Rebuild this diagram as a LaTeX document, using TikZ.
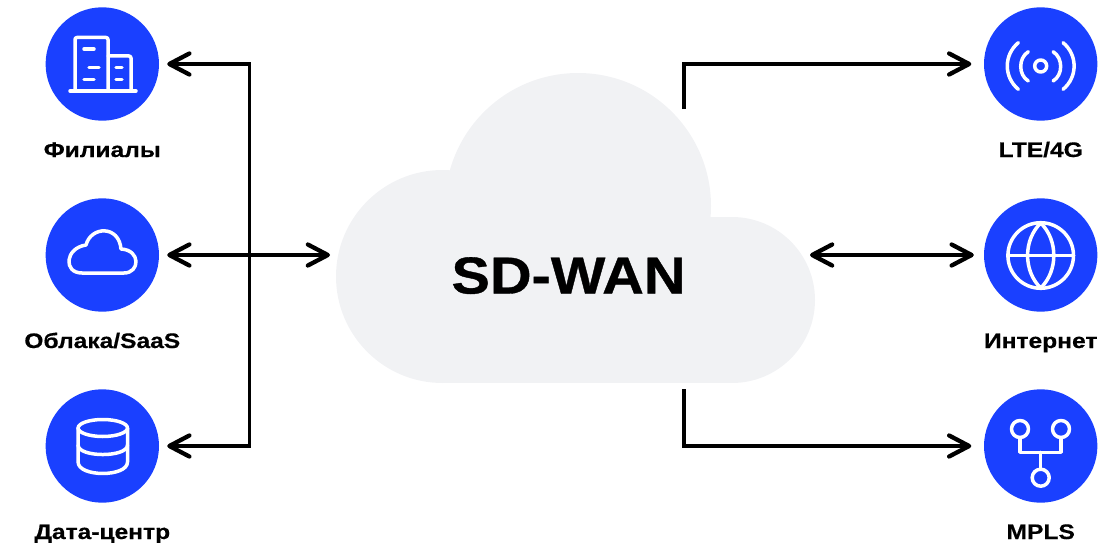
\documentclass[tikz,border=0pt]{standalone}
\usepackage{fontspec}
\newfontfamily\labfont{Liberation Sans Bold}[FakeStretch=1.17,FakeBold=0.5]
\newfontfamily\corefont{Liberation Sans Bold}[FakeStretch=1.11,FakeBold=0.7]
\usetikzlibrary{arrows.meta}
\definecolor{disc}{HTML}{1A40FF}
\definecolor{cloudgrey}{HTML}{F1F2F4}
\tikzset{
  x=1pt,y=-1pt,
  disc/.style={circle,fill=disc,minimum size=113.4pt,inner sep=0pt,draw=none},
  lab/.style={font=\labfont\fontsize{21}{24}\selectfont,text=black,inner sep=0pt,anchor=base},
  cloudpart/.style={fill=cloudgrey,draw=none},
  link/.style={draw=black,line width=3.7pt,line join=miter},
  barb/.tip={Straight Barb[length=20pt,width=21pt,round,line width=4.3pt]},
  ico/.style={draw=white,line width=3.5pt,line cap=round,line join=round},
}
\begin{document}
\begin{tikzpicture}
\useasboundingbox (0,0) rectangle (1117,543);
% cloud
\fill[cloudpart] (442.5,276.5) circle (106.5);
\fill[cloudpart] (578,206) circle (133);
\fill[cloudpart] (732,300) circle (83);
\fill[cloudpart] (442.5,217) rectangle (732,383);
\node[font=\corefont\fontsize{52}{60}\selectfont,inner sep=0pt,anchor=base] (core) at (568.5,293.5) {SD-WAN};
% discs
\node[disc] (fil) at (102.3,64) {};
\node[disc] (obl) at (102.3,255) {};
\node[disc] (dc) at (102.3,446) {};
\node[disc] (lte) at (1040.7,64) {};
\node[disc] (inet) at (1040.7,255) {};
\node[disc] (mpls) at (1040.7,446) {};
% labels
\node[lab] (lfil) at (102.3,157) {Филиалы};
\node[lab] (lobl) at (102.3,348) {Облака/SaaS};
\node[lab] (ldc) at (102.3,539) {Дата-центр};
\node[lab] (llte) at (1040.7,157) {LTE/4G};
\node[lab] (linet) at (1040.7,348) {Интернет};
\node[lab] (lmpls) at (1040.7,539) {MPLS};
% connector points
\coordinate (cl) at (330,255);
\coordinate (cr) at (810,255);
\coordinate (ct) at (684,109);
\coordinate (cb) at (684,389);
\coordinate (bus) at (249.5,64);
% connectors
\draw[link,{barb}-{barb},shorten <=8pt,shorten >=8pt] (fil.east) -- (bus) -- (bus |- dc.east) -- (dc.east);
\draw[link,{barb}-{barb},shorten <=8pt] (obl.east) -- (cl);
\draw[link,-{barb},shorten >=12.5pt] (ct) |- (lte.west);
\draw[link,{barb}-{barb},shorten >=10pt] (cr) -- (inet.west);
\draw[link,-{barb},shorten >=12.5pt] (cb) |- (mpls.west);
% icon: buildings
\draw[ico] (70,91) -- (136,91);
\draw[ico,rounded corners=2pt] (75,91) -- (75,37.5) -- (108,37.5) -- (108,91);
\draw[ico,rounded corners=2pt] (108,56) -- (131,56) -- (131,91);
\draw[ico] (84,49) -- (94,49) (89,67.7) -- (99,67.7) (84,79.3) -- (94,79.3) (116,67.7) -- (122,67.7) (116,79.3) -- (122,79.3);
% icon: cloud
\draw[ico] (82,273) .. controls (63,273) and (65,248) .. (86,245) .. controls (91,226) and (119,225) .. (121,249) .. controls (141,250) and (140,273) .. (124,273) -- cycle;
% icon: database
\draw[ico] (102.8,428) ellipse (24.7 and 8.5);
\draw[ico] (78.1,428) -- (78.1,462) .. controls (78.1,477.3) and (127.5,477.3) .. (127.5,462) -- (127.5,428);
\draw[ico] (78.1,445) .. controls (78.1,457.7) and (127.5,457.7) .. (127.5,445);
% icon: antenna
\draw[ico] (1040.7,66) circle (6);
\draw[ico] (1028.3,51.7) .. controls (1018.2,58) and (1018.2,75) .. (1028.3,81);
\draw[ico] (1053.1,51.7) .. controls (1063.2,58) and (1063.2,75) .. (1053.1,81);
\draw[ico] (1018.3,42.7) .. controls (1003.6,55) and (1003.6,77) .. (1018.3,89.3);
\draw[ico] (1063.1,42.7) .. controls (1077.8,55) and (1077.8,77) .. (1063.1,89.3);
% icon: globe
\draw[ico] (1040.7,255.5) circle (32.8);
\draw[ico] (1040.7,223) .. controls (1023.2,240) and (1023.2,271) .. (1040.7,288) .. controls (1058.2,271) and (1058.2,240) .. cycle;
\draw[ico] (1008,255.5) -- (1073.5,255.5);
% icon: tree
\draw[ico] (1020,429) circle (8.5);
\draw[ico] (1061,429) circle (8.5);
\draw[ico] (1040.7,477.7) circle (8.5);
\draw[ico] (1020,437.5) -- (1020,452.3) -- (1061,452.3) -- (1061,437.5);
\draw[ico] (1040.7,452.3) -- (1040.7,469.2);
\end{tikzpicture}
\end{document}
